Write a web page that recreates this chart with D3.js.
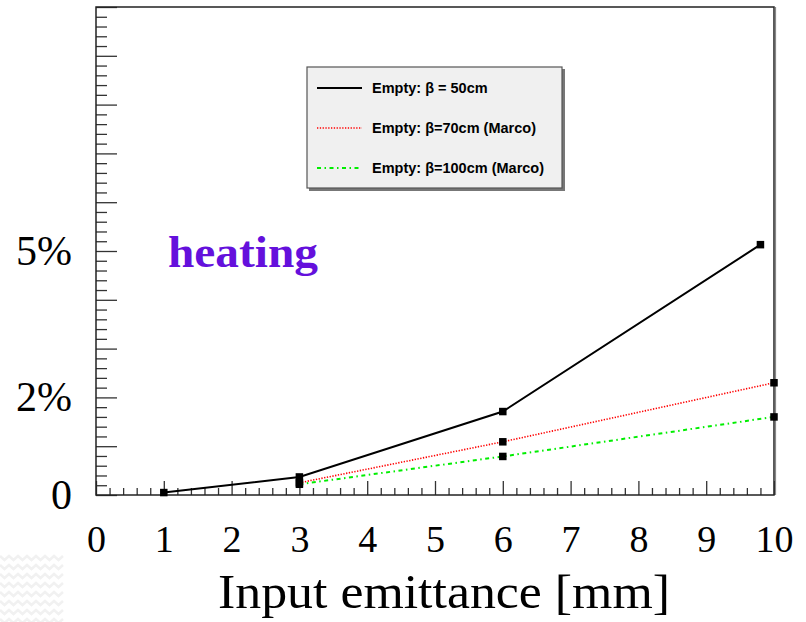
<!DOCTYPE html>
<html>
<head>
<meta charset="utf-8">
<script src="https://cdn.jsdelivr.net/npm/d3@7"></script>
<style>
  body { margin: 0; background: #fff; }
  svg { display: block; }
  .axis-title { font-family: "Liberation Serif", serif; fill: #000; }
  .legend-text { font-family: "Liberation Sans", Arial, sans-serif; font-weight: bold; font-size: 14.5px; fill: #000; }
</style>
</head>
<body>
<div id="chart"></div>
<script>
// series values (x in mm, y in %)
const blackX = [1, 3, 6, 9.8];
const blackY = [0.05, 0.37, 1.71, 5.13];
const redX = [3, 6, 10];
const redY = [0.25, 1.09, 2.30];
const greenX = [3, 6, 10];
const greenY = [0.22, 0.79, 1.60];

const seriesNames = ['Empty: β = 50cm', 'Empty: β=70cm (Marco)', 'Empty: β=100cm (Marco)'];

// tick labels
const xLabelValues = [0, 1, 2, 3, 4, 5, 6, 7, 8, 9, 10];
const yLabelValues = [0, 2, 5];
const yLabelText = ['0', '2%', '5%'];

class LineChart {
    constructor(_config, _series) {
        this.config = {
            parentElement: _config.parentElement,
            containerWidth: _config.containerWidth || 806,
            containerHeight: _config.containerHeight || 622,
            margin: _config.margin || {top: 7, right: 32, bottom: 127, left: 96}
        };
        this.series = _series;
        this.initVis();
        this.renderVis();
    }

    initVis() {
        let vis = this;

        vis.width = vis.config.containerWidth - vis.config.margin.left - vis.config.margin.right;
        vis.height = vis.config.containerHeight - vis.config.margin.top - vis.config.margin.bottom;

        vis.svg = d3.select(vis.config.parentElement)
            .append('svg')
            .attr('width', vis.config.containerWidth)
            .attr('height', vis.config.containerHeight);

        // faint zigzag decoration of the slide, bottom left
        const deco = vis.svg.append('g').attr('stroke', '#f1f1f1').attr('stroke-width', 2.5).attr('fill', 'none');
        for (let r = 0; r < 8; r++) {
            let pts = [];
            for (let k = 0; k <= 14; k++) pts.push([k * 4.5, 556 + r * 9 + (k % 2 ? 4 : 0)]);
            deco.append('path').attr('d', d3.line()(pts));
        }

        vis.chart = vis.svg.append('g')
            .attr('transform', `translate(${vis.config.margin.left},${vis.config.margin.top})`);

        vis.xScale = d3.scaleLinear().domain([0, 10]).range([0, vis.width]);
        vis.yScale = d3.scaleLinear().domain([0, 10]).range([vis.height, 0]);

        const minorX = d3.range(0, 10.001, 0.2).filter(v => Math.abs(v - Math.round(v)) > 1e-6);
        const majorX = d3.range(0, 11, 1);

        // x ticks point up into the frame
        vis.chart.append('g')
            .attr('class', 'axis x-minor')
            .attr('transform', `translate(0,${vis.height})`)
            .call(d3.axisBottom(vis.xScale).tickValues(minorX).tickSize(-7).tickFormat(''))
            .call(g => g.select('.domain').remove());
        vis.chart.append('g')
            .attr('class', 'axis x-major')
            .attr('transform', `translate(0,${vis.height})`)
            .call(d3.axisBottom(vis.xScale).tickValues(majorX).tickSize(-14).tickFormat(''))
            .call(g => g.select('.domain').remove());

        // y ticks point right into the frame
        vis.chart.append('g')
            .attr('class', 'axis y-minor')
            .call(d3.axisRight(vis.yScale).tickValues(minorX).tickSize(11).tickFormat(''))
            .call(g => g.select('.domain').remove());
        vis.chart.append('g')
            .attr('class', 'axis y-major')
            .call(d3.axisRight(vis.yScale).tickValues(majorX).tickSize(21).tickFormat(''))
            .call(g => g.select('.domain').remove());

        vis.chart.selectAll('.axis .tick line').attr('stroke', '#333').attr('stroke-width', 1.3);

        // tick labels
        vis.chart.append('g')
            .attr('class', 'axis x-labels')
            .attr('transform', `translate(0,${vis.height})`)
            .call(d3.axisBottom(vis.xScale).tickValues(xLabelValues).tickSize(0).tickPadding(30).tickFormat(d3.format('d')))
            .call(g => g.select('.domain').remove())
            .call(g => g.selectAll('text')
                .attr('font-family', '"Liberation Serif", serif')
                .attr('font-size', 38)
                .attr('fill', '#000'));

        vis.chart.append('g')
            .attr('class', 'axis y-labels')
            .call(d3.axisLeft(vis.yScale).tickValues(yLabelValues).tickSize(0).tickPadding(24)
                .tickFormat((d, i) => yLabelText[i]))
            .call(g => g.select('.domain').remove())
            .call(g => g.selectAll('text')
                .attr('font-family', '"Liberation Serif", serif')
                .attr('font-size', 42)
                .attr('fill', '#000'));

        // frame
        vis.chart.append('rect')
            .attr('width', vis.width)
            .attr('height', vis.height)
            .attr('fill', 'none')
            .attr('stroke', '#222')
            .attr('stroke-width', 1.5);
        vis.chart.append('line')
            .attr('x1', vis.width + 1.5).attr('x2', vis.width + 1.5)
            .attr('y1', 0).attr('y2', vis.height)
            .attr('stroke', '#888').attr('stroke-width', 1.2);

        // axis title
        vis.svg.append('text')
            .attr('class', 'axis-title')
            .attr('x', 218)
            .attr('y', 608)
            .attr('font-size', 48)
            .attr('textLength', 452)
            .attr('lengthAdjust', 'spacingAndGlyphs')
            .text('Input emittance [mm]');

        // annotation
        vis.svg.append('text')
            .attr('x', 168)
            .attr('y', 267)
            .attr('font-family', '"Liberation Serif", serif')
            .attr('font-weight', 'bold')
            .attr('font-size', 44)
            .attr('fill', '#6410dc')
            .attr('textLength', 150)
            .attr('lengthAdjust', 'spacingAndGlyphs')
            .text('heating');
    }

    renderVis() {
        let vis = this;

        const line = d3.line()
            .x(d => vis.xScale(d.x))
            .y(d => vis.yScale(d.y));

        // draw the lower series first so the black one sits on top
        const order = [...vis.series].reverse();

        vis.chart.selectAll('.series-line')
            .data(order)
            .join('path')
            .attr('class', 'series-line')
            .attr('fill', 'none')
            .attr('stroke', d => d.color)
            .attr('stroke-width', d => d.width)
            .attr('stroke-dasharray', d => d.dash)
            .attr('d', d => line(d.points));

        const ms = 7.5;
        vis.chart.selectAll('.marker')
            .data(order.flatMap(s => s.points))
            .join('rect')
            .attr('class', 'marker')
            .attr('x', d => vis.xScale(d.x) - ms / 2)
            .attr('y', d => vis.yScale(d.y) - ms / 2)
            .attr('width', ms)
            .attr('height', ms)
            .attr('fill', '#000');

        // legend
        const lg = vis.svg.append('g').attr('transform', 'translate(307,67)');
        lg.append('rect')
            .attr('x', 2).attr('y', 2)
            .attr('width', 256).attr('height', 122)
            .attr('fill', '#777');
        lg.append('rect')
            .attr('width', 255).attr('height', 121)
            .attr('fill', '#f0f0f0')
            .attr('stroke', '#555')
            .attr('stroke-width', 1.2);

        const rows = lg.selectAll('.legend-row')
            .data(vis.series)
            .join('g')
            .attr('class', 'legend-row')
            .attr('transform', (d, i) => `translate(0,${[21, 61, 101][i]})`);
        rows.append('line')
            .attr('x1', 10).attr('x2', 55)
            .attr('stroke', d => d.color)
            .attr('stroke-width', d => d.width)
            .attr('stroke-dasharray', d => d.dash);
        rows.append('text')
            .attr('class', 'legend-text')
            .attr('x', 65)
            .attr('y', 5)
            .text(d => d.name);
    }
}

const series = [
    {name: seriesNames[0], color: '#000', width: 2, dash: null,
     points: blackX.map((x, i) => ({x: x, y: blackY[i]}))},
    {name: seriesNames[1], color: '#ff0000', width: 1.6, dash: '1.3,1.5',
     points: redX.map((x, i) => ({x: x, y: redY[i]}))},
    {name: seriesNames[2], color: '#00ee00', width: 2, dash: '4,3.5,1.5,3.5',
     points: greenX.map((x, i) => ({x: x, y: greenY[i]}))}
];

new LineChart({parentElement: '#chart'}, series);
</script>
</body>
</html>
